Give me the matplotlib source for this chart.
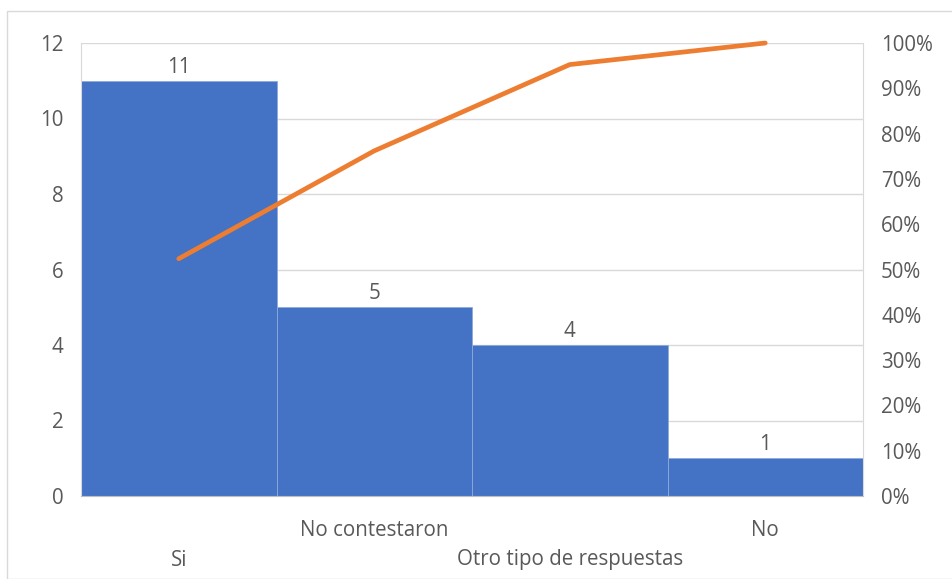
import matplotlib
matplotlib.use("Agg")
import matplotlib.pyplot as plt
from matplotlib.patches import Rectangle

categories = ["Si", "No contestaron", "Otro tipo de respuestas", "No"]
counts = [11, 5, 4, 1]
cum_pct = [11/21*100, 16/21*100, 20/21*100, 100.0]
left_ticks = [0, 2, 4, 6, 8, 10, 12]
right_ticks = [0, 10, 20, 30, 40, 50, 60, 70, 80, 90, 100]

plt.rcParams['font.family'] = ['Open Sans', 'DejaVu Sans']
TXT = '#595959'
FS = 14.8

W, H = 952, 579
fig = plt.figure(figsize=(W/100, H/100), dpi=100)
fig.patches.append(Rectangle((7/W, 0), 1.0, 1 - 11/H, transform=fig.transFigure,
                             fill=False, edgecolor='#D9D9D9', linewidth=1.0))

x0, x1, y0, y1 = 81, 863, 43, 496
ax = fig.add_axes([x0/W, 1 - y1/H, (x1-x0)/W, (y1-y0)/H])
xs = list(range(len(categories)))
ax.bar(xs, counts, width=1.0, color='#4472C4', edgecolor='#8FAADC', linewidth=0.6, zorder=2)
for x, v in zip(xs, counts):
    ax.text(x, v + 0.08, str(v), ha='center', va='bottom', fontsize=FS, color=TXT, zorder=3)
ax.set_xlim(-0.5, len(categories) - 0.5)
ax.set_ylim(0, 12)
ax.set_yticks(left_ticks)
ax.set_yticklabels([str(t) for t in left_ticks])
ax.grid(axis='y', color='#D9D9D9', linewidth=1.0, zorder=0)
ax.set_axisbelow(True)
ax.spines['top'].set_visible(False)
for s in ['left', 'right']:
    ax.spines[s].set_color('#D9D9D9')
ax.spines['bottom'].set_color('#BFBFBF')
ax.tick_params(axis='y', length=0, pad=12.5, labelsize=FS, labelcolor=TXT)
ax.set_xticks(xs)
ax.set_xticklabels([])
ax.tick_params(axis='x', length=0)
for i, c in enumerate(categories):
    yoff = 530 if i % 2 == 1 else 560
    fig.text((x0 + (i + 0.5) * (x1 - x0) / 4) / W, 1 - yoff / H, c, ha='center', va='center',
             fontsize=FS, color=TXT)

ax2 = ax.twinx()
ax2.plot(xs, cum_pct, color='#ED7D31', linewidth=3.4, solid_capstyle='round',
         solid_joinstyle='round', zorder=4, clip_on=False)
ax2.set_ylim(0, 100)
ax2.set_yticks(right_ticks)
ax2.set_yticklabels([f"{t}%" for t in right_ticks])
ax2.tick_params(axis='y', length=0, pad=13, labelsize=FS, labelcolor=TXT)
for s in ['top', 'bottom', 'left', 'right']:
    ax2.spines[s].set_visible(False)

fig.savefig("out.png", dpi=100)
